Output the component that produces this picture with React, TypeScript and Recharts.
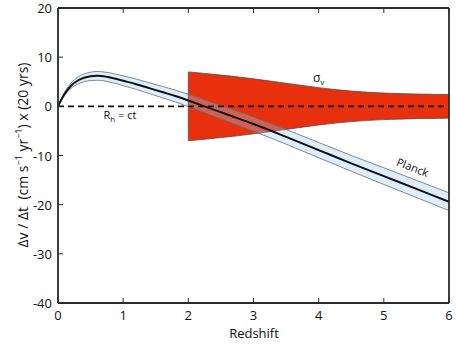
import {
  ComposedChart,
  Area,
  Line,
  XAxis,
  YAxis,
  ReferenceLine,
  ReferenceDot,
} from "recharts";

// Redshift grid shared by all series
const redshift = [
  0, 0.1, 0.2, 0.3, 0.4, 0.5, 0.6, 0.7, 0.8, 0.9, 1.0, 1.2, 1.4, 1.6, 1.8, 2.0,
  2.25, 2.5, 2.75, 3.0, 3.5, 4.0, 4.5, 5.0, 5.5, 6.0,
];

// Planck prediction (centre line and 1-sigma band)
const planckCenter = [
  0, 2.5, 4.2, 5.2, 5.8, 6.1, 6.2, 6.1, 5.85, 5.55, 5.2, 4.5, 3.7, 2.9, 2.1, 1.2,
  0.0, -1.2, -2.4, -3.6, -6.2, -8.9, -11.6, -14.2, -16.8, -19.4,
];
const planckUpper = [
  0, 2.85, 4.75, 5.9, 6.6, 6.95, 7.1, 7.0, 6.8, 6.5, 6.2, 5.55, 4.8, 4.05, 3.3,
  2.45, 1.3, 0.15, -1.0, -2.15, -4.7, -7.35, -10.0, -12.5, -15.05, -17.6,
];
const planckLower = [
  0, 2.15, 3.65, 4.5, 5.0, 5.25, 5.3, 5.2, 4.9, 4.6, 4.2, 3.45, 2.6, 1.75, 0.9,
  -0.05, -1.3, -2.55, -3.8, -5.05, -7.7, -10.45, -13.2, -15.9, -18.55, -21.2,
];

// sigma_v band (only from z = 2)
const sigmaUpper = [
  null, null, null, null, null, null, null, null, null, null, null, null, null,
  null, null, 7.0, 6.7, 6.35, 6.0, 5.6, 4.7, 3.8, 3.1, 2.7, 2.5, 2.4,
];
const sigmaLower = [
  null, null, null, null, null, null, null, null, null, null, null, null, null,
  null, null, -7.0, -6.7, -6.35, -6.0, -5.6, -4.7, -3.8, -3.1, -2.7, -2.5, -2.4,
];

const xTicks = [0, 1, 2, 3, 4, 5, 6];
const yTicks = [-40, -30, -20, -10, 0, 10, 20];

const data = redshift.map((z, i) => ({
  z,
  center: planckCenter[i],
  band: [planckLower[i], planckUpper[i]],
  sigma: sigmaUpper[i] == null ? null : [sigmaLower[i], sigmaUpper[i]],
}));

const sigmaStart = sigmaUpper.findIndex((v) => v != null);

const FONT = "'Open Sans', sans-serif";
const AXIS = "#2b2b2b";

const BottomTick = ({ x, y, payload }: any) => (
  <g>
    <line x1={x} y1={y} x2={x} y2={y - 5} stroke={AXIS} strokeWidth={1} />
    <text x={x} y={y + 17} textAnchor="middle" fontSize={13} fontFamily={FONT} fill="#111">
      {payload.value}
    </text>
  </g>
);

const TopTick = ({ x, y }: any) => (
  <line x1={x} y1={y} x2={x} y2={y + 5} stroke={AXIS} strokeWidth={1} />
);

const LeftTick = ({ x, y, payload }: any) => (
  <g>
    <line x1={x} y1={y} x2={x + 5} y2={y} stroke={AXIS} strokeWidth={1} />
    <text x={x - 6} y={y + 5} textAnchor="end" fontSize={13} fontFamily={FONT} fill="#111">
      {payload.value}
    </text>
  </g>
);

const RightTick = ({ x, y }: any) => (
  <line x1={x} y1={y} x2={x - 5} y2={y} stroke={AXIS} strokeWidth={1} />
);

const rhLabel = (props: any) => {
  const { x, y } = props.viewBox;
  return (
    <text x={x} y={y} textAnchor="middle" fontSize={11} fontFamily={FONT} fill="#111">
      R<tspan fontSize={8} dy={3}>h</tspan>
      <tspan dy={-3}> = ct</tspan>
    </text>
  );
};

const sigmaLabel = (props: any) => {
  const { x, y } = props.viewBox;
  return (
    <text x={x} y={y} textAnchor="middle" fontSize={12} fontFamily={FONT} fill="#111">
      σ<tspan fontSize={8} dy={3}>v</tspan>
    </text>
  );
};

const planckLabel = (props: any) => {
  const { x, y } = props.viewBox;
  return (
    <text
      x={x}
      y={y}
      textAnchor="middle"
      fontSize={11}
      fontFamily={FONT}
      fill="#111"
      transform={`rotate(21 ${x} ${y})`}
    >
      Planck
    </text>
  );
};

export default function App() {
  return (
    <div style={{ position: "absolute", left: 0, top: 0, width: 456, height: 347, background: "#fff" }}>
      <ComposedChart
        width={456}
        height={347}
        data={data}
        margin={{ top: 0, right: 0, bottom: 0, left: 0 }}
      >
        <XAxis
          dataKey="z"
          type="number"
          domain={[0, 6]}
          ticks={xTicks}
          height={44}
          tickSize={0}
          tickMargin={0}
          tick={BottomTick}
          axisLine={{ stroke: AXIS, strokeWidth: 1.8 }}
          tickLine={false}
          interval={0}
        />
        <XAxis
          xAxisId="top"
          orientation="top"
          dataKey="z"
          type="number"
          domain={[0, 6]}
          ticks={xTicks}
          height={8}
          tickSize={0}
          tickMargin={0}
          tick={TopTick}
          axisLine={{ stroke: AXIS, strokeWidth: 1.8 }}
          tickLine={false}
          interval={0}
        />
        <YAxis
          type="number"
          domain={[-40, 20]}
          ticks={yTicks}
          width={58}
          tickSize={0}
          tickMargin={0}
          tick={LeftTick}
          axisLine={{ stroke: AXIS, strokeWidth: 1.8 }}
          tickLine={false}
          interval={0}
          allowDataOverflow
        />
        <YAxis
          yAxisId="right"
          orientation="right"
          type="number"
          domain={[-40, 20]}
          ticks={yTicks}
          width={7}
          tickSize={0}
          tickMargin={0}
          tick={RightTick}
          axisLine={{ stroke: AXIS, strokeWidth: 1.8 }}
          tickLine={false}
          interval={0}
        />

        <Area
          dataKey="sigma"
          type="monotone"
          fill="#e8300c"
          fillOpacity={1}
          stroke="#5a4a48"
          strokeWidth={0.8}
          isAnimationActive={false}
        />
        <ReferenceLine
          segment={[
            { x: redshift[sigmaStart], y: sigmaLower[sigmaStart] as number },
            { x: redshift[sigmaStart], y: sigmaUpper[sigmaStart] as number },
          ]}
          stroke="#5a4a48"
          strokeWidth={0.8}
        />

        <Area
          dataKey="band"
          type="monotone"
          fill="#9cc8f0"
          fillOpacity={0.33}
          stroke="#5f6f7c"
          strokeWidth={0.8}
          isAnimationActive={false}
        />
        <Line
          dataKey="center"
          type="monotone"
          stroke="#111"
          strokeWidth={2}
          dot={false}
          isAnimationActive={false}
        />

        <ReferenceLine
          segment={[
            { x: 0, y: 0 },
            { x: 6, y: 0 },
          ]}
          stroke="#111"
          strokeWidth={1.6}
          strokeDasharray="6 4"
        />

        <ReferenceDot x={0.95} y={-2.6} r={0} fill="none" stroke="none" label={rhLabel} />
        <ReferenceDot x={4.0} y={4.9} r={0} fill="none" stroke="none" label={sigmaLabel} />
        <ReferenceDot x={5.42} y={-13.2} r={0} fill="none" stroke="none" label={planckLabel} />
      </ComposedChart>

      <div
        style={{
          position: "absolute",
          left: 19 - 140,
          top: 155 - 11,
          width: 280,
          height: 22,
          lineHeight: "22px",
          textAlign: "center",
          transform: "rotate(-90deg)",
          fontFamily: FONT,
          fontSize: 14,
          color: "#111",
          whiteSpace: "nowrap",
        }}
      >
        Δv / Δt&nbsp; (cm s<sup style={{ fontSize: 9 }}>−1</sup> yr<sup style={{ fontSize: 9 }}>−1</sup>) x (20 yrs)
      </div>
      <div
        style={{
          position: "absolute",
          left: 154,
          top: 324,
          width: 200,
          textAlign: "center",
          fontFamily: FONT,
          fontSize: 13,
          color: "#111",
        }}
      >
        Redshift
      </div>
    </div>
  );
}
